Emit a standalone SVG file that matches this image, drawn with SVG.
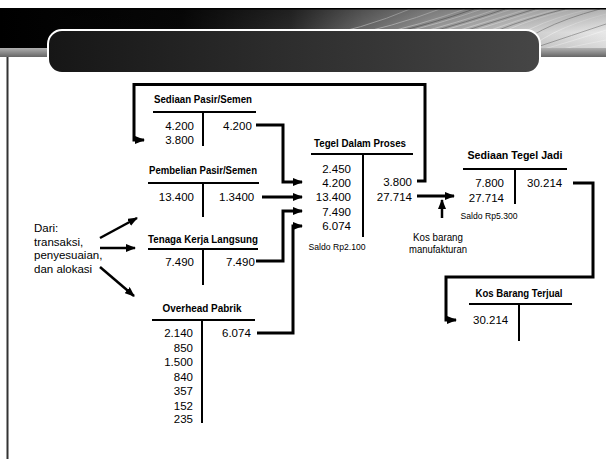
<svg xmlns="http://www.w3.org/2000/svg" width="606" height="459" viewBox="0 0 606 459">
<defs>
<linearGradient id="band" x1="0" y1="0" x2="1" y2="0">
<stop offset="0" stop-color="#000"/>
<stop offset="0.3" stop-color="#080808"/>
<stop offset="0.48" stop-color="#2a2a2a"/>
<stop offset="0.6" stop-color="#6a6a6a"/>
<stop offset="0.72" stop-color="#a0a0a0"/>
<stop offset="0.86" stop-color="#cccccc"/>
<stop offset="1" stop-color="#e8e8e8"/>
</linearGradient>
<linearGradient id="bandV" x1="0" y1="0" x2="0" y2="1">
<stop offset="0" stop-color="#000" stop-opacity="0.25"/>
<stop offset="0.5" stop-color="#000" stop-opacity="0"/>
<stop offset="1" stop-color="#000" stop-opacity="0.1"/>
</linearGradient>
<linearGradient id="box" x1="0" y1="0" x2="1" y2="0">
<stop offset="0" stop-color="#161616"/>
<stop offset="1" stop-color="#464646"/>
</linearGradient>
<linearGradient id="stripe" x1="0" y1="0" x2="0" y2="1">
<stop offset="0" stop-color="#b0b0b0"/>
<stop offset="1" stop-color="#666"/>
</linearGradient>
<clipPath id="bandClip"><rect x="0" y="9" width="606" height="48"/></clipPath>
<marker id="ah" viewBox="0 0 10 8" refX="9" refY="4" markerWidth="10" markerHeight="8" markerUnits="userSpaceOnUse" orient="auto">
<path d="M0,0 L10,4 L0,8 Z" fill="#000"/>
</marker>
<style>
.num{font-family:"Liberation Sans",Arial,sans-serif;font-size:11.5px;fill:#000}
.r{text-anchor:end}
.ttl{font-family:"Liberation Sans",Arial,sans-serif;font-size:11px;font-weight:bold;fill:#000;text-anchor:middle}
.sm{font-family:"Liberation Sans",Arial,sans-serif;font-size:9px;fill:#000;text-anchor:middle}
.note{font-family:"Liberation Sans",Arial,sans-serif;font-size:10px;fill:#000;text-anchor:middle}
.acc{stroke:#000;stroke-width:2;fill:none}
.con{stroke:#000;stroke-width:3;fill:none;stroke-linejoin:miter}
.arr{stroke:#000;stroke-width:2.5;fill:none;marker-end:url(#ah)}
.ray{fill:none;stroke-width:0.9}
</style>
</defs>
<rect width="606" height="459" fill="#fff"/>
<g id="header">
<rect x="0" y="8" width="606" height="49" fill="url(#band)"/>
<g clip-path="url(#bandClip)">
<g class="ray" stroke="#fff" opacity="0.45">
<path d="M160,57 Q320,48 410,9"/>
<path d="M200,57 Q350,44 440,9"/>
<path d="M250,57 Q380,40 465,9"/>
<path d="M280,57 Q400,38 482,9"/>
<path d="M310,57 Q420,36 497,9"/>
<path d="M340,57 Q440,34 512,9"/>
<path d="M370,57 Q455,32 527,9"/>
<path d="M400,57 Q470,30 542,9"/>
<path d="M430,57 Q485,28 557,9"/>
<path d="M460,57 Q500,26 572,9"/>
<path d="M490,57 Q520,25 590,9"/>
<path d="M520,57 Q545,30 606,14"/>
<path d="M540,50 Q570,42 606,30"/>
<path d="M540,54 Q575,46 606,40"/>
</g>
<g class="ray" stroke="#000" opacity="0.3">
<path d="M265,57 Q390,39 474,9"/>
<path d="M325,57 Q430,35 505,9"/>
<path d="M385,57 Q462,31 535,9"/>
<path d="M445,57 Q492,27 565,9"/>
<path d="M505,57 Q532,27 600,9"/>
<path d="M540,46 Q570,36 606,24"/>
</g>
</g>
<rect x="0" y="8" width="606" height="49" fill="url(#bandV)"/>
<rect x="0" y="8" width="606" height="1.5" fill="#000"/>
<rect x="0" y="48" width="50" height="9" fill="url(#stripe)"/>
<rect x="538" y="48" width="68" height="9" fill="url(#stripe)"/>
<rect x="48" y="30" width="492" height="43" rx="14" ry="14" fill="url(#box)" stroke="#fff" stroke-width="2"/>
<line x1="7.5" y1="57" x2="7.5" y2="459" stroke="#333" stroke-width="2"/>
</g>
<g id="connectors">
<path class="con" d="M256,125 H283 V182 H302" marker-end="url(#ah)"/>
<path class="con" d="M262,197 H302" marker-end="url(#ah)"/>
<path class="con" d="M256,261 H283 V211 H302" marker-end="url(#ah)"/>
<path class="con" d="M257,333 H293 V226 H302" marker-end="url(#ah)"/>
<path class="con" d="M417,181 H425 V84.5 H134 V140 H144" marker-end="url(#ah)"/>
<path class="con" d="M417,196 H454" marker-end="url(#ah)"/>
<path class="con" d="M573,183 H593 V277 H446 V320 H456" marker-end="url(#ah)"/>
<path class="arr" d="M442,218 V200"/>
<path class="arr" d="M100,238 L137,218"/>
<path class="arr" d="M100,248 H135"/>
<path class="arr" d="M100,267 L134,296"/>
</g>
<g id="dari">
<text class="num" x="34" y="232">Dari:</text>
<text class="num" x="34" y="245.5">transaksi,</text>
<text class="num" x="34" y="259">penyesuaian,</text>
<text class="num" x="34" y="272.5">dan alokasi</text>
</g>
<g id="sediaan-pasir">
<text class="ttl" x="203" y="103" textLength="98" lengthAdjust="spacingAndGlyphs">Sediaan Pasir/Semen</text>
<path class="acc" d="M153,112 H256 M203,112 V146"/>
<text class="num r" x="194" y="130">4.200</text>
<text class="num r" x="194" y="144">3.800</text>
<text class="num" x="223" y="130">4.200</text>
</g>
<g id="pembelian">
<text class="ttl" x="203" y="174" textLength="108" lengthAdjust="spacingAndGlyphs">Pembelian Pasir/Semen</text>
<path class="acc" d="M148,183 H259 M203,183 V217"/>
<text class="num r" x="194" y="201">13.400</text>
<text class="num" x="219" y="201">1.3400</text>
</g>
<g id="tenaga">
<text class="ttl" x="203" y="243" textLength="110" lengthAdjust="spacingAndGlyphs">Tenaga Kerja Langsung</text>
<path class="acc" d="M148,249 H258 M203,249 V285"/>
<text class="num r" x="194" y="266">7.490</text>
<text class="num" x="226" y="266">7.490</text>
</g>
<g id="overhead">
<text class="ttl" x="202" y="312" textLength="79" lengthAdjust="spacingAndGlyphs">Overhead Pabrik</text>
<path class="acc" d="M152,320 H255 M202,320 V423"/>
<text class="num r" x="193" y="337">2.140</text>
<text class="num r" x="193" y="351.5">850</text>
<text class="num r" x="193" y="366">1.500</text>
<text class="num r" x="193" y="380.5">840</text>
<text class="num r" x="193" y="395">357</text>
<text class="num r" x="193" y="409.5">152</text>
<text class="num r" x="193" y="423">235</text>
<text class="num" x="222" y="337">6.074</text>
</g>
<g id="tegel-proses">
<text class="ttl" x="360" y="147" textLength="92" lengthAdjust="spacingAndGlyphs">Tegel Dalam Proses</text>
<path class="acc" d="M311,154 H413 M363,154 V237"/>
<text class="num r" x="351" y="173">2.450</text>
<text class="num r" x="351" y="187">4.200</text>
<text class="num r" x="351" y="201">13.400</text>
<text class="num r" x="351" y="215.5">7.490</text>
<text class="num r" x="351" y="230">6.074</text>
<text class="num r" x="412" y="186">3.800</text>
<text class="num r" x="412" y="201">27.714</text>
<text class="sm" x="337" y="250" textLength="57" lengthAdjust="spacingAndGlyphs">Saldo Rp2.100</text>
</g>
<g id="kos-barang-manufaktur">
<text class="note" x="438" y="241" textLength="50" lengthAdjust="spacingAndGlyphs">Kos barang</text>
<text class="note" x="438" y="253" textLength="58" lengthAdjust="spacingAndGlyphs">manufakturan</text>
</g>
<g id="sediaan-tegel-jadi">
<text class="ttl" x="515" y="159" textLength="95" lengthAdjust="spacingAndGlyphs">Sediaan Tegel Jadi</text>
<path class="acc" d="M463,169 H567 M515,169 V204"/>
<text class="num r" x="504" y="187">7.800</text>
<text class="num r" x="504" y="202">27.714</text>
<text class="num" x="527" y="187">30.214</text>
<text class="sm" x="489" y="219" textLength="57" lengthAdjust="spacingAndGlyphs">Saldo Rp5.300</text>
</g>
<g id="kos-barang-terjual">
<text class="ttl" x="519" y="297" textLength="87" lengthAdjust="spacingAndGlyphs">Kos Barang Terjual</text>
<path class="acc" d="M469,304 H572 M519,304 V341"/>
<text class="num" x="473" y="324">30.214</text>
</g>
</svg>
